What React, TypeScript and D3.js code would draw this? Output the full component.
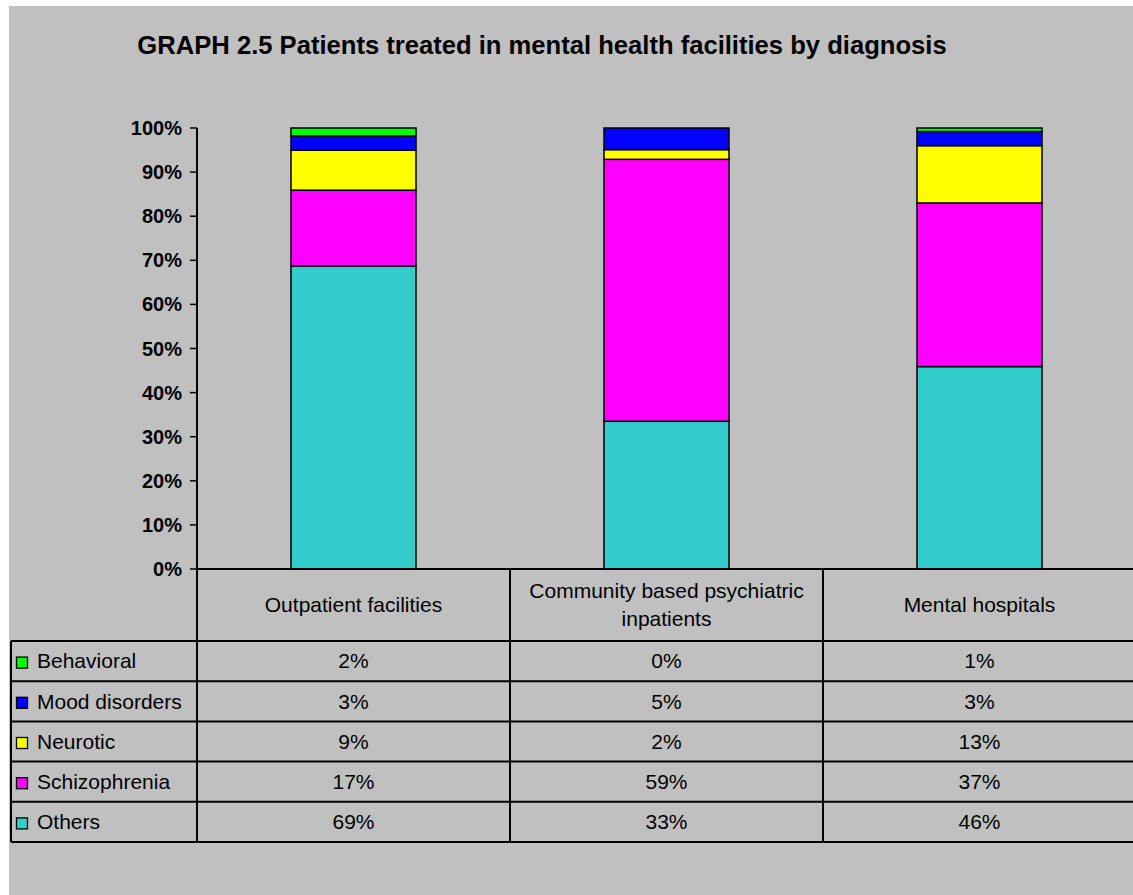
import React from 'react';
import * as d3 from 'd3';

const categories = ['Outpatient facilities', 'Community based psychiatric inpatients', 'Mental hospitals'];
const categoryLines = [['Outpatient facilities'], ['Community based psychiatric', 'inpatients'], ['Mental hospitals']];

// stacked bottom -> top
const seriesNames = ['Others', 'Schizophrenia', 'Neurotic', 'Mood disorders', 'Behavioral'];
const seriesColors = ['#33CCCC', '#FF00FF', '#FFFF00', '#0000FF', '#00FF00'];
const others = [68.7, 33.5, 45.9];
const schizophrenia = [17.2, 59.4, 37.1];
const neurotic = [9.1, 2.2, 13.0];
const mood = [3.2, 4.9, 3.2];
const behavioral = [1.8, 0, 0.8];
const tableLabels = [
  ['69%', '33%', '46%'],
  ['17%', '59%', '37%'],
  ['9%', '2%', '13%'],
  ['3%', '5%', '3%'],
  ['2%', '0%', '1%'],
];
const yTicks = [0, 10, 20, 30, 40, 50, 60, 70, 80, 90, 100];

const W = 1133;
const H = 895;
const font = 'Arial, "Liberation Sans", sans-serif';

const App = () => {
  const values = [others, schizophrenia, neurotic, mood, behavioral];
  const rows = categories.map((c, i) => {
    const r: any = { cat: c };
    seriesNames.forEach((s, k) => (r[s] = values[k][i]));
    return r;
  });
  const stacked = d3.stack<any>().keys(seriesNames)(rows);

  const axisX = 197;
  const x = d3.scaleBand<string>().domain(categories).range([axisX, axisX + 313 * 3]).paddingInner(0).paddingOuter(0);
  const barW = 125;
  const y = d3.scaleLinear().domain([0, 100]).range([569, 128]);

  const tableTop = 641;
  const rowH = 40.2;
  const tableLeft = 11;
  const tableBottom = tableTop + rowH * 5;
  // table rows listed top -> bottom
  const tableOrder = [4, 3, 2, 1, 0];

  return (
    <div style={{ position: 'absolute', left: 0, top: 0 }}>
      <svg width={W} height={H} style={{ display: 'block' }} fontFamily={font}>
        <rect x={0} y={0} width={W} height={H} fill="#ffffff" />
        <rect x={9} y={6} width={W - 9} height={H - 6} fill="#C0C0C0" />
        <text x={542} y={54} textAnchor="middle" fontSize={25.6} fontWeight="bold" fill="#000">
          GRAPH 2.5 Patients treated in mental health facilities by diagnosis
        </text>

        {/* bars */}
        {stacked.map((layer, k) => (
          <g key={layer.key}>
            {layer.map((d, i) =>
              d[1] - d[0] > 0 ? (
                <rect
                  key={i}
                  x={(x(categories[i]) as number) + (x.bandwidth() - barW) / 2}
                  y={y(d[1])}
                  width={barW}
                  height={y(d[0]) - y(d[1])}
                  fill={seriesColors[k]}
                  stroke="#000"
                  strokeWidth={1.5}
                />
              ) : null
            )}
          </g>
        ))}

        {/* y axis */}
        <line x1={axisX} x2={axisX} y1={y(100)} y2={tableBottom} stroke="#000" strokeWidth={2} />
        {yTicks.map((t) => (
          <g key={t}>
            <line x1={axisX - 7} x2={axisX} y1={y(t)} y2={y(t)} stroke="#000" strokeWidth={1.5} />
            <text x={182} y={y(t)} dy="0.35em" textAnchor="end" fontSize={20} fontWeight="bold" fill="#000">
              {t}%
            </text>
          </g>
        ))}

        {/* x axis line + data table */}
        <line x1={axisX} x2={W} y1={y(0)} y2={y(0)} stroke="#000" strokeWidth={2} />
        {categories.slice(1).map((c) => (
          <line key={c} x1={x(c)} x2={x(c)} y1={y(0)} y2={tableBottom} stroke="#000" strokeWidth={2} />
        ))}
        {d3.range(6).map((r) => (
          <line key={r} x1={tableLeft} x2={W} y1={tableTop + r * rowH} y2={tableTop + r * rowH} stroke="#000" strokeWidth={2} />
        ))}
        <line x1={tableLeft} x2={tableLeft} y1={tableTop} y2={tableBottom} stroke="#000" strokeWidth={2} />

        {categoryLines.map((lines, i) => {
          const cx = (x(categories[i]) as number) + x.bandwidth() / 2;
          const cy = (y(0) + tableTop) / 2;
          return (
            <text key={i} x={cx} textAnchor="middle" fontSize={21} fill="#000">
              {lines.map((ln, j) => (
                <tspan key={j} x={cx} y={cy + (j - (lines.length - 1) / 2) * 28} dy="0.35em">
                  {ln}
                </tspan>
              ))}
            </text>
          );
        })}

        {tableOrder.map((k, r) => {
          const cy = tableTop + r * rowH + rowH / 2;
          return (
            <g key={k}>
              <rect x={16.5} y={cy - 4} width={11} height={11} fill={seriesColors[k]} stroke="#000" strokeWidth={1.3} />
              <text x={37} y={cy} dy="0.35em" fontSize={21} fill="#000">
                {seriesNames[k]}
              </text>
              {categories.map((c, i) => (
                <text key={c} x={(x(c) as number) + x.bandwidth() / 2} y={cy} dy="0.35em" textAnchor="middle" fontSize={21} fill="#000">
                  {tableLabels[k][i]}
                </text>
              ))}
            </g>
          );
        })}
      </svg>
    </div>
  );
};

export default App;
